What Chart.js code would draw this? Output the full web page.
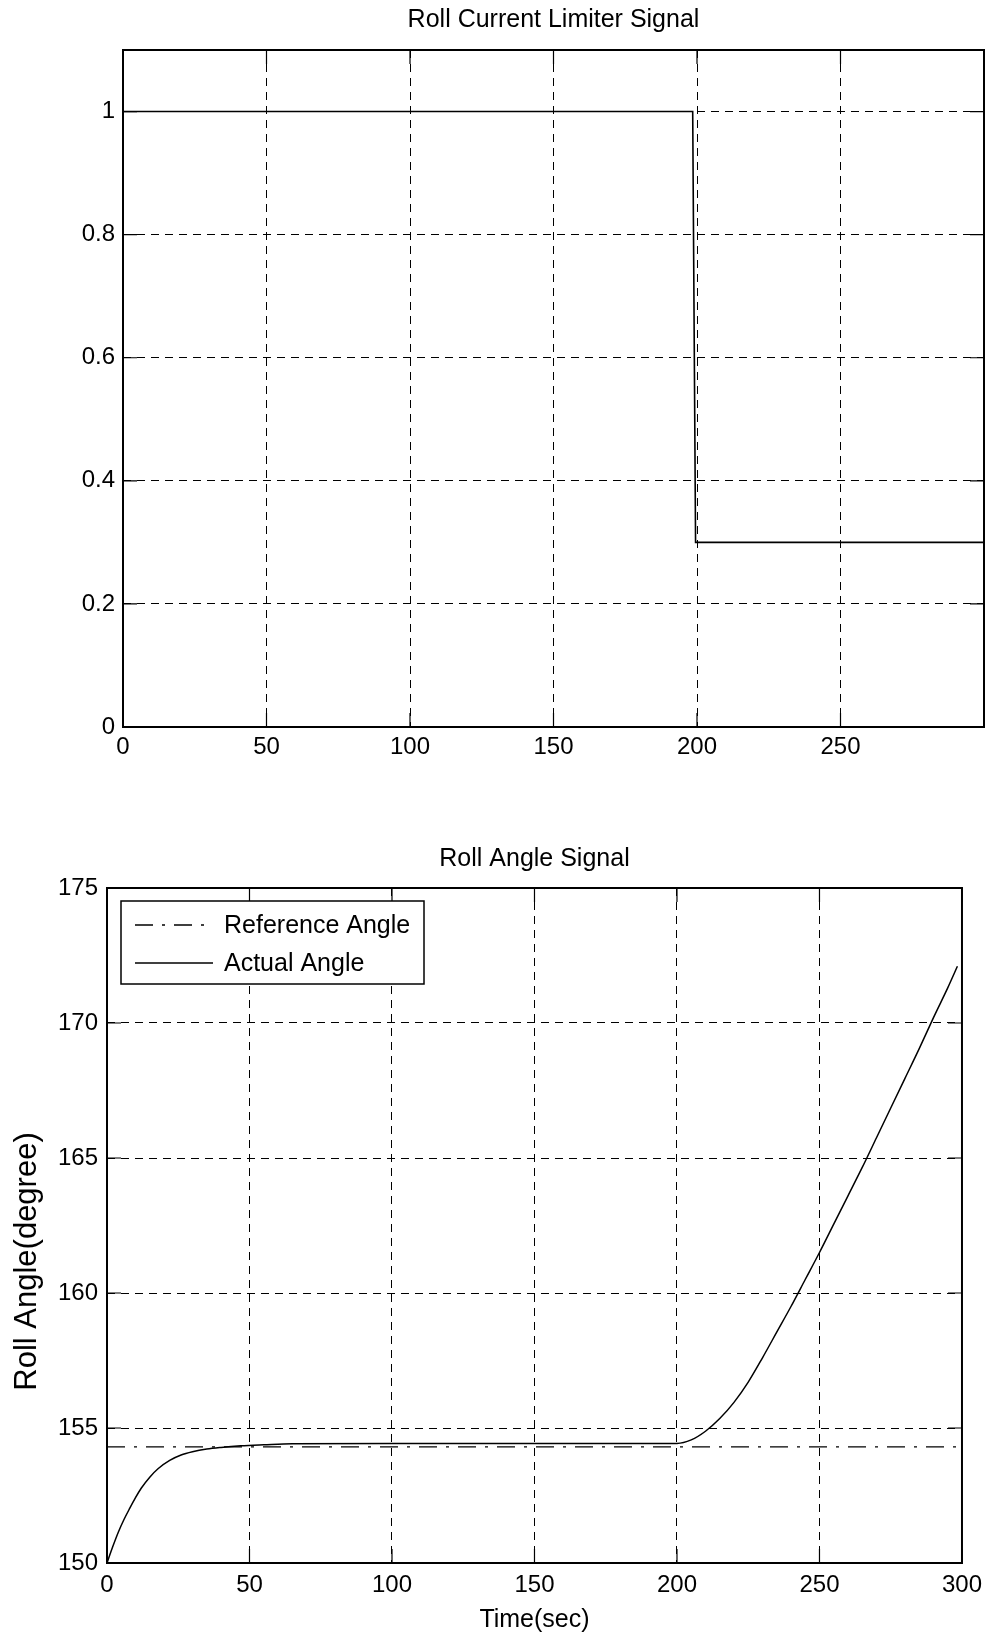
<!DOCTYPE html>
<html><head><meta charset="utf-8">
<script src="https://cdn.jsdelivr.net/npm/chart.js@4.4.1/dist/chart.umd.min.js"></script>
<style>
html,body{margin:0;padding:0;background:#fff;}
#c1{position:absolute;left:0;top:0;}
#c2{position:absolute;left:0;top:790px;}
</style></head><body>
<canvas id="c1" width="990" height="790" style="width:990px;height:790px"></canvas>
<canvas id="c2" width="990" height="849" style="width:990px;height:849px"></canvas>
<script>
// ---- Top chart data: Roll Current Limiter Signal ----
const limiterTime  = [0, 198.5, 199.5, 300];
const limiterValue = [1, 1, 0.3, 0.3];
const limiterXTicks = [0, 50, 100, 150, 200, 250, 300];
const limiterXTickLabels = ['0', '50', '100', '150', '200', '250', ''];
const limiterYTicks = [0, 0.2, 0.4, 0.6, 0.8, 1];
const limiterYTickLabels = ['0', '0.2', '0.4', '0.6', '0.8', '1'];

// ---- Bottom chart data: Roll Angle Signal ----
const refTime  = [0, 300];
const refAngle = [154.3, 154.3];
const actTime  = [0, 2, 4, 6, 8, 10, 12, 15, 18, 22, 26, 30, 35, 40, 47, 55, 65, 100, 150, 200, 205, 210, 215, 220, 225, 230, 235, 240, 245, 250, 255, 260, 265, 270, 275, 280, 285, 290, 295, 298.4];
const actAngle = [150, 150.6, 151.15, 151.62, 152.03, 152.42, 152.77, 153.18, 153.5, 153.8, 154.0, 154.12, 154.22, 154.28, 154.34, 154.38, 154.42, 154.43, 154.43, 154.43, 154.56, 154.88, 155.35, 155.95, 156.7, 157.6, 158.55, 159.5, 160.5, 161.5, 162.55, 163.6, 164.65, 165.75, 166.85, 167.95, 169.05, 170.2, 171.3, 172.1];
const angleXTicks = [0, 50, 100, 150, 200, 250, 300];
const angleXTickLabels = ['0', '50', '100', '150', '200', '250', '300'];
const angleYTicks = [150, 155, 160, 165, 170, 175];
const angleYTickLabels = ['150', '155', '160', '165', '170', '175'];
const seriesNames = ['Reference Angle', 'Actual Angle'];

const FONT = "'Liberation Sans', Arial, Helvetica, sans-serif";
Chart.defaults.font.family = FONT;
Chart.defaults.color = '#000';

const framePlugin = {
  id: 'frame',
  afterDraw(chart) {
    const {ctx, chartArea: a, scales: {x, y}} = chart;
    ctx.save();
    ctx.strokeStyle = '#000';
    ctx.setLineDash([]);
    ctx.lineWidth = 1.2;
    const L = 14;
    ctx.beginPath();
    x.ticks.forEach(t => {
      const px = x.getPixelForValue(t.value);
      ctx.moveTo(px, a.bottom); ctx.lineTo(px, a.bottom - L);
      ctx.moveTo(px, a.top); ctx.lineTo(px, a.top + L);
    });
    y.ticks.forEach(t => {
      const py = y.getPixelForValue(t.value);
      ctx.moveTo(a.left, py); ctx.lineTo(a.left + L, py);
      ctx.moveTo(a.right, py); ctx.lineTo(a.right - L, py);
    });
    ctx.stroke();
    ctx.lineWidth = 2;
    ctx.strokeRect(a.left, a.top, a.right - a.left, a.bottom - a.top);
    ctx.restore();
  }
};

const legendPlugin = {
  id: 'insideLegend',
  afterDraw(chart) {
    const {ctx, chartArea: a} = chart;
    const bx = a.left + 14, by = a.top + 13, bw = 303, bh = 83;
    ctx.save();
    ctx.fillStyle = '#fff';
    ctx.fillRect(bx, by, bw, bh);
    ctx.strokeStyle = '#000';
    ctx.lineWidth = 1.5;
    ctx.setLineDash([]);
    ctx.strokeRect(bx, by, bw, bh);
    ctx.font = '25px ' + FONT;
    ctx.fillStyle = '#000';
    ctx.textBaseline = 'middle';
    chart.data.datasets.forEach((ds, i) => {
      const cy = by + 24 + i * 38;
      ctx.beginPath();
      ctx.lineWidth = ds.borderWidth;
      ctx.setLineDash(ds.borderDash || []);
      ctx.moveTo(bx + 14, cy);
      ctx.lineTo(bx + 92, cy);
      ctx.stroke();
      ctx.setLineDash([]);
      ctx.fillText(ds.label, bx + 103, cy + 1);
    });
    ctx.restore();
  }
};

// Rotated y-axis title (drawn so it can sit where the original places it)
const yTitlePlugin = {
  id: 'yTitle',
  afterDraw(chart, args, opts) {
    const {ctx, chartArea: a} = chart;
    ctx.save();
    ctx.translate(27, (a.top + a.bottom) / 2 + 36);
    ctx.rotate(-Math.PI / 2);
    ctx.font = '31px ' + FONT;
    ctx.fillStyle = '#000';
    ctx.textAlign = 'center';
    ctx.textBaseline = 'middle';
    ctx.fillText(opts.text, 0, 0);
    ctx.restore();
  }
};

function gridCfg() {
  return { color: '#000', lineWidth: 1, drawTicks: false };
}

new Chart(document.getElementById('c1'), {
  type: 'line',
  data: {
    datasets: [{
      label: 'Limiter',
      data: limiterTime.map((t, i) => ({x: t, y: limiterValue[i]})),
      borderColor: '#000', borderWidth: 1.6, pointRadius: 0, tension: 0, fill: false
    }]
  },
  options: {
    responsive: false, animation: false,
    layout: { padding: { left: 0, right: 2, top: 0, bottom: 0 } },
    plugins: {
      legend: { display: false }, tooltip: { enabled: false },
      title: { display: true, fullSize: false, text: 'Roll Current Limiter Signal', color: '#000',
        font: { size: 25, weight: 'normal', family: FONT }, padding: { top: 5, bottom: 15 } }
    },
    scales: {
      x: {
        type: 'linear', min: 0, max: 300,
        afterBuildTicks: s => { s.ticks = limiterXTicks.map(v => ({value: v})); },
        afterFit: s => { s.height = 63; },
        grid: gridCfg(), border: { display: false, dash: [8, 6] },
        ticks: { font: { size: 24 }, padding: 6, maxRotation: 0, autoSkip: false,
          callback: (v, i) => limiterXTickLabels[i] }
      },
      y: {
        type: 'linear', min: 0, max: 1.1,
        afterBuildTicks: s => { s.ticks = limiterYTicks.map(v => ({value: v})); },
        afterFit: s => { s.width = 123; },
        grid: gridCfg(), border: { display: false, dash: [8, 6] },
        ticks: { font: { size: 24 }, padding: 8, autoSkip: false,
          callback: (v, i) => limiterYTickLabels[i] }
      }
    }
  },
  plugins: [framePlugin]
});

new Chart(document.getElementById('c2'), {
  type: 'line',
  data: {
    datasets: [{
      label: seriesNames[0],
      data: refTime.map((t, i) => ({x: t, y: refAngle[i]})),
      borderColor: '#000', borderWidth: 1.3, borderDash: [18, 9, 3, 9], pointRadius: 0, tension: 0, fill: false
    }, {
      label: seriesNames[1],
      data: actTime.map((t, i) => ({x: t, y: actAngle[i]})),
      borderColor: '#000', borderWidth: 1.5, pointRadius: 0, cubicInterpolationMode: 'monotone', fill: false
    }]
  },
  options: {
    responsive: false, animation: false,
    layout: { padding: { left: 0, right: 27, top: 0, bottom: 0 } },
    plugins: {
      legend: { display: false }, tooltip: { enabled: false },
      yTitle: { text: 'Roll Angle(degree)' },
      title: { display: true, fullSize: false, text: 'Roll Angle Signal', color: '#000',
        font: { size: 25, weight: 'normal', family: FONT }, padding: { top: 54, bottom: 14 } }
    },
    scales: {
      x: {
        type: 'linear', min: 0, max: 300,
        afterBuildTicks: s => { s.ticks = angleXTicks.map(v => ({value: v})); },
        afterFit: s => { s.height = 76; },
        grid: gridCfg(), border: { display: false, dash: [8, 6] },
        title: { display: true, text: 'Time(sec)', color: '#000', font: { size: 25 }, padding: { top: 0, bottom: 4 } },
        ticks: { font: { size: 24 }, padding: 8, maxRotation: 0, autoSkip: false,
          callback: (v, i) => angleXTickLabels[i] }
      },
      y: {
        type: 'linear', min: 150, max: 175,
        afterBuildTicks: s => { s.ticks = angleYTicks.map(v => ({value: v})); },
        afterFit: s => { s.width = 107; },
        grid: gridCfg(), border: { display: false, dash: [8, 6] },
        ticks: { font: { size: 24 }, padding: 9, autoSkip: false,
          callback: (v, i) => angleYTickLabels[i] }
      }
    }
  },
  plugins: [framePlugin, legendPlugin, yTitlePlugin]
});
</script>
</body></html>
